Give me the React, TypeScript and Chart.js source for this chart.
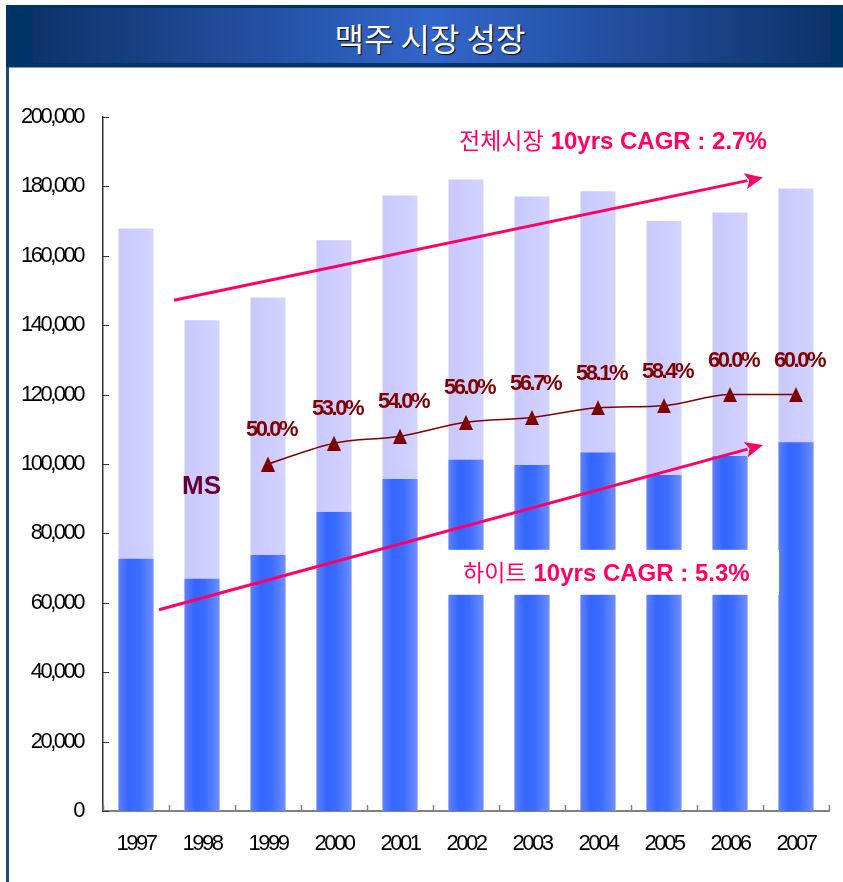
import React, { useEffect, useRef } from 'react';
import { Chart, registerables } from 'chart.js';

Chart.register(...registerables);

// ---- data ----
const years = ['1997', '1998', '1999', '2000', '2001', '2002', '2003', '2004', '2005', '2006', '2007'];
const totalMarket = [167900, 141400, 148000, 164500, 177400, 182000, 177100, 178600, 170000, 172500, 179400];
const hiteVolume = [72700, 66900, 73800, 86200, 95700, 101200, 99700, 103300, 96800, 102300, 106300];
const msShare: (number | null)[] = [null, null, 50.0, 53.0, 54.0, 56.0, 56.7, 58.1, 58.4, 60.0, 60.0];
const yMax = 200000;
const yStep = 20000;
const msAxisMax = 100;

// ---- texts ----
const titleText = '맥주 시장 성장';
const totalCagrKo = '전체시장';
const totalCagrEn = '10yrs CAGR : 2.7%';
const hiteCagrKo = '하이트';
const hiteCagrEn = '10yrs CAGR : 5.3%';
const msText = 'MS';

// ---- annotation anchors in data space: [category index, value] ----
const totalArrowFrom = [0.576, 147200];
const totalArrowTo = [9.5, 182600];
const hiteArrowFrom = [0.348, 58000];
const hiteArrowTo = [9.5, 105500];
const totalTextAt = [4.894, 193300];
const hiteTextAt = [4.955, 68650];
const hiteBoxFrom = [4.606, 75270];
const hiteBoxTo = [9.742, 62310];
const msTextAt = [0.697, 94130];

const BAR_PCT = 0.53;
const PINK = '#FF0066';
const MAROON = '#800000';
const NUM_FONT = '"Liberation Sans", Arial, sans-serif';
const KO_FONT = '"Noto Sans CJK KR", sans-serif';
const TIGHT = '-2.5px';

const BLUE_STOPS: [number, string][] = [
  [0, '#5d80ff'],
  [0.3, '#3366ff'],
  [0.6, '#3d6dff'],
  [1, '#6d8eff'],
];
const LAV_STOPS: [number, string][] = [
  [0, '#c8c8fb'],
  [0.4, '#ccccff'],
  [1, '#d3d3ff'],
];

function barFill(ctx: any, stops: [number, string][]) {
  const chart = ctx.chart;
  const xs = chart.scales && chart.scales.x;
  if (!xs || typeof ctx.dataIndex !== 'number' || !xs.width) return stops[1][1];
  const cx = xs.getPixelForValue(ctx.dataIndex);
  const w = (xs.width / years.length) * BAR_PCT;
  const g = chart.ctx.createLinearGradient(cx - w / 2, 0, cx + w / 2, 0);
  stops.forEach(([o, c]) => g.addColorStop(o, c));
  return g;
}

function drawArrow(ctx: CanvasRenderingContext2D, x1: number, y1: number, x2: number, y2: number) {
  const ang = Math.atan2(y2 - y1, x2 - x1);
  const c = Math.cos(ang);
  const s = Math.sin(ang);
  const headLen = 18;
  const headW = 8;
  const bx = x2 - headLen * c;
  const by = y2 - headLen * s;
  ctx.strokeStyle = PINK;
  ctx.fillStyle = PINK;
  ctx.lineWidth = 3;
  ctx.beginPath();
  ctx.moveTo(x1, y1);
  ctx.lineTo(bx + 2 * c, by + 2 * s);
  ctx.stroke();
  ctx.beginPath();
  ctx.moveTo(x2, y2);
  ctx.lineTo(bx - headW * s, by + headW * c);
  ctx.lineTo(bx + 4 * c, by + 4 * s);
  ctx.lineTo(bx + headW * s, by - headW * c);
  ctx.closePath();
  ctx.fill();
}

const overlayPlugin = {
  id: 'overlay',
  beforeLayout(chart: any) {
    chart.ctx.letterSpacing = TIGHT;
  },
  beforeDraw(chart: any) {
    chart.ctx.letterSpacing = TIGHT;
  },
  afterDatasetsDraw(chart: any) {
    const ctx: CanvasRenderingContext2D = chart.ctx;
    const xs = chart.scales.x;
    const ys = chart.scales.y;
    const px = (p: number[]) => [xs.getPixelForValue(p[0]), ys.getPixelForValue(p[1])];
    ctx.save();

    // inner tick marks
    ctx.strokeStyle = '#333333';
    ctx.lineWidth = 1;
    ys.ticks.forEach((t: any) => {
      const y = Math.round(ys.getPixelForValue(t.value)) + 0.5;
      ctx.beginPath();
      ctx.moveTo(xs.left, y);
      ctx.lineTo(xs.left + 6, y);
      ctx.stroke();
    });
    ctx.strokeStyle = '#808080';
    ctx.lineWidth = 1.5;
    for (let i = 0; i <= years.length; i++) {
      const x = Math.round(xs.getPixelForValue(i - 0.5)) + 0.5;
      ctx.beginPath();
      ctx.moveTo(x, ys.bottom);
      ctx.lineTo(x, ys.bottom - 6);
      ctx.stroke();
    }

    // white box behind hite text
    const [bx1, by1] = px(hiteBoxFrom);
    const [bx2, by2] = px(hiteBoxTo);
    ctx.fillStyle = '#ffffff';
    ctx.fillRect(bx1, by1, bx2 - bx1, by2 - by1);

    // arrows
    const [a1x, a1y] = px(totalArrowFrom);
    const [a2x, a2y] = px(totalArrowTo);
    drawArrow(ctx, a1x, a1y, a2x, a2y);
    const [h1x, h1y] = px(hiteArrowFrom);
    const [h2x, h2y] = px(hiteArrowTo);
    drawArrow(ctx, h1x, h1y, h2x, h2y);

    // CAGR texts
    const drawCagr = (at: number[], ko: string, en: string) => {
      const [x, yc] = px(at);
      const base = yc + 0.358 * 24;
      ctx.letterSpacing = '0px';
      ctx.fillStyle = PINK;
      ctx.textAlign = 'left';
      ctx.textBaseline = 'alphabetic';
      ctx.font = `23px ${KO_FONT}`;
      ctx.fillText(ko, x, base);
      const w = ctx.measureText(ko).width;
      ctx.font = `bold 24px ${NUM_FONT}`;
      ctx.fillText(en, x + w + 7, base);
    };
    drawCagr(totalTextAt, totalCagrKo, totalCagrEn);
    drawCagr(hiteTextAt, hiteCagrKo, hiteCagrEn);

    // MS label
    const [mx, my] = px(msTextAt);
    ctx.letterSpacing = '0px';
    ctx.fillStyle = '#660033';
    ctx.font = `bold 26px ${NUM_FONT}`;
    ctx.textAlign = 'left';
    ctx.textBaseline = 'alphabetic';
    ctx.fillText(msText, mx, my + 0.358 * 26);

    // MS percentage labels
    const meta = chart.getDatasetMeta(0);
    ctx.letterSpacing = TIGHT;
    ctx.fillStyle = MAROON;
    ctx.font = `bold 22px ${NUM_FONT}`;
    ctx.textAlign = 'center';
    meta.data.forEach((pt: any, i: number) => {
      const v = msShare[i];
      if (v === null || v === undefined) return;
      ctx.fillText(v.toFixed(1) + '%', pt.x + 3, pt.y - 28);
    });

    ctx.restore();
    ctx.letterSpacing = TIGHT;
  },
};

export default function App() {
  const ref = useRef<HTMLCanvasElement>(null);

  useEffect(() => {
    if (!ref.current) return;
    const tri = document.createElement('canvas');
    tri.width = 14;
    tri.height = 15;
    const tctx = tri.getContext('2d')!;
    tctx.fillStyle = MAROON;
    tctx.beginPath();
    tctx.moveTo(7, 0);
    tctx.lineTo(14, 15);
    tctx.lineTo(0, 15);
    tctx.closePath();
    tctx.fill();

    const tickFont = { family: NUM_FONT, size: 22 };

    const chart = new Chart(ref.current, {
      type: 'bar',
      data: {
        labels: years,
        datasets: [
          {
            type: 'line',
            label: 'MS',
            data: msShare,
            yAxisID: 'y2',
            borderColor: MAROON,
            borderWidth: 1.5,
            pointStyle: tri,
            pointRadius: 7,
            pointBackgroundColor: MAROON,
            cubicInterpolationMode: 'monotone',
            fill: false,
            order: 0,
          } as any,
          {
            label: '하이트',
            data: hiteVolume,
            backgroundColor: (c: any) => barFill(c, BLUE_STOPS),
            grouped: false,
            barPercentage: BAR_PCT,
            categoryPercentage: 1,
            order: 1,
          } as any,
          {
            label: '전체시장',
            data: totalMarket,
            backgroundColor: (c: any) => barFill(c, LAV_STOPS),
            grouped: false,
            barPercentage: BAR_PCT,
            categoryPercentage: 1,
            order: 2,
          } as any,
        ],
      },
      options: {
        responsive: false,
        animation: false,
        events: [],
        layout: { padding: { top: 117, right: 14, left: 0, bottom: 0 } },
        plugins: { legend: { display: false }, tooltip: { enabled: false } },
        scales: {
          x: {
            grid: { display: false, drawTicks: false },
            border: { display: true, color: '#808080', width: 2 },
            ticks: { color: '#000000', font: tickFont, padding: 20, maxRotation: 0, autoSkip: false },
            afterFit: (s: any) => {
              s.height = 71;
            },
          },
          y: {
            min: 0,
            max: yMax,
            grid: { display: false, drawTicks: false },
            border: { display: true, color: '#333333', width: 1.5 },
            ticks: {
              stepSize: yStep,
              color: '#000000',
              font: tickFont,
              padding: 20,
              callback: (v: any) => Number(v).toLocaleString('en-US'),
            },
            afterFit: (s: any) => {
              s.width = 103;
            },
          },
          y2: { display: false, min: 0, max: msAxisMax },
        },
      } as any,
      plugins: [overlayPlugin as any],
    });
    return () => chart.destroy();
  }, []);

  return (
    <div style={{ position: 'absolute', left: 0, top: 0, width: 843, height: 882, background: '#ffffff', overflow: 'hidden' }}>
      <div style={{ position: 'absolute', left: 6, top: 5, width: 837, height: 62, background: '#003366', borderBottom: '1px solid #7f9cc0' }}>
        <div
          style={{
            position: 'absolute',
            left: 27,
            top: 3,
            width: 797,
            height: 55,
            background: 'linear-gradient(to right, #0e3369 0%, #3366cc 50%, #0e3369 100%)',
          }}
        />
        <div
          style={{
            position: 'absolute',
            left: 11,
            top: 1,
            width: 826,
            height: 62,
            display: 'flex',
            alignItems: 'center',
            justifyContent: 'center',
            color: '#ffffff',
            fontFamily: KO_FONT,
            fontSize: 32,
            textShadow: '1px 1px 1px #000000',
          }}
        >
          {titleText}
        </div>
      </div>
      <div style={{ position: 'absolute', left: 6, top: 67, width: 3, height: 815, background: '#1c4876' }} />
      <canvas ref={ref} width={843} height={882} style={{ position: 'absolute', left: 0, top: 0 }} />
    </div>
  );
}
